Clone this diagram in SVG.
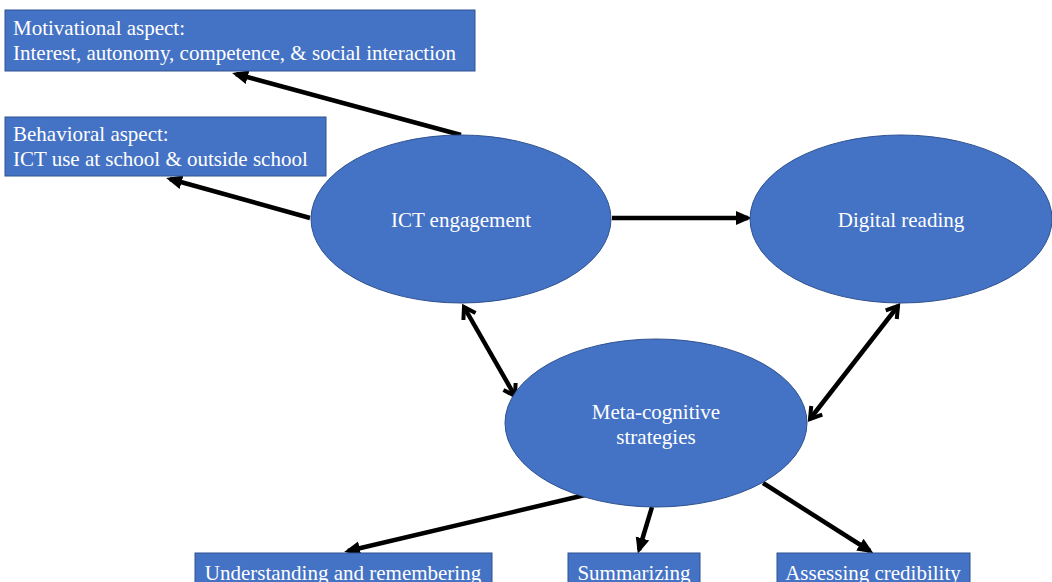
<svg xmlns="http://www.w3.org/2000/svg" width="1052" height="582" viewBox="0 0 1052 582">
<style>
.box{fill:#4472C4;stroke:#2F528F;stroke-width:1}
.ell{fill:#4472C4;stroke:#2F528F;stroke-width:1}
.t{font-family:"Liberation Serif","Times New Roman",serif;font-size:21px;fill:#ffffff}
.c{text-anchor:middle}
.con{stroke:#000;stroke-width:4.5;fill:none}
</style>
<defs>
<marker id="tri" markerUnits="userSpaceOnUse" markerWidth="16" markerHeight="16" viewBox="0 0 16 16" refX="12" refY="8" orient="auto">
<path d="M0,1 L16,8 L0,15 z" fill="#000"/>
</marker>
<marker id="chev" markerUnits="userSpaceOnUse" markerWidth="18" markerHeight="18" viewBox="0 0 18 18" refX="14" refY="9" orient="auto-start-reverse">
<path d="M3,2 L14,9 L3,16" fill="none" stroke="#000" stroke-width="4" stroke-linejoin="miter"/>
</marker>
</defs>
<rect width="1052" height="582" fill="#ffffff"/>
<g id="connectors">
<line class="con" x1="461" y1="135" x2="236" y2="74" marker-end="url(#tri)"/>
<line class="con" x1="310" y1="218" x2="170" y2="179" marker-end="url(#tri)"/>
<line class="con" x1="612" y1="218" x2="748" y2="218" marker-end="url(#tri)"/>
<line class="con" x1="464" y1="307" x2="515" y2="396" marker-start="url(#chev)" marker-end="url(#chev)"/>
<line class="con" x1="898" y1="306" x2="810" y2="419" marker-start="url(#chev)" marker-end="url(#chev)"/>
<line class="con" x1="585" y1="495" x2="348" y2="551" marker-end="url(#tri)"/>
<line class="con" x1="652" y1="507" x2="639" y2="550" marker-end="url(#tri)"/>
<line class="con" x1="763" y1="483" x2="870" y2="551" marker-end="url(#tri)"/>
</g>
<g id="motivational">
<rect class="box" x="5" y="10" width="470" height="61"/>
<text class="t" x="13" y="35">Motivational aspect:</text>
<text class="t" x="13" y="60">Interest, autonomy, competence, &amp; social interaction</text>
</g>
<g id="behavioral">
<rect class="box" x="5" y="117" width="321" height="59"/>
<text class="t" x="13" y="141">Behavioral aspect:</text>
<text class="t" x="13" y="166">ICT use at school &amp; outside school</text>
</g>
<g id="ict">
<ellipse class="ell" cx="461" cy="219" rx="150" ry="84"/>
<text class="t c" x="461" y="227">ICT engagement</text>
</g>
<g id="digital">
<ellipse class="ell" cx="901" cy="219" rx="151" ry="84"/>
<text class="t c" x="901" y="227">Digital reading</text>
</g>
<g id="meta">
<ellipse class="ell" cx="656" cy="423" rx="151" ry="84"/>
<text class="t c" x="656" y="419">Meta-cognitive</text>
<text class="t c" x="656" y="444">strategies</text>
</g>
<g id="understanding">
<rect class="box" x="195" y="553" width="297" height="40"/>
<text class="t c" x="343" y="580">Understanding and remembering</text>
</g>
<g id="summarizing">
<rect class="box" x="568" y="553" width="132" height="40"/>
<text class="t c" x="634" y="580">Summarizing</text>
</g>
<g id="assessing">
<rect class="box" x="777" y="553" width="193" height="40"/>
<text class="t c" x="873" y="580">Assessing credibility</text>
</g>
</svg>
